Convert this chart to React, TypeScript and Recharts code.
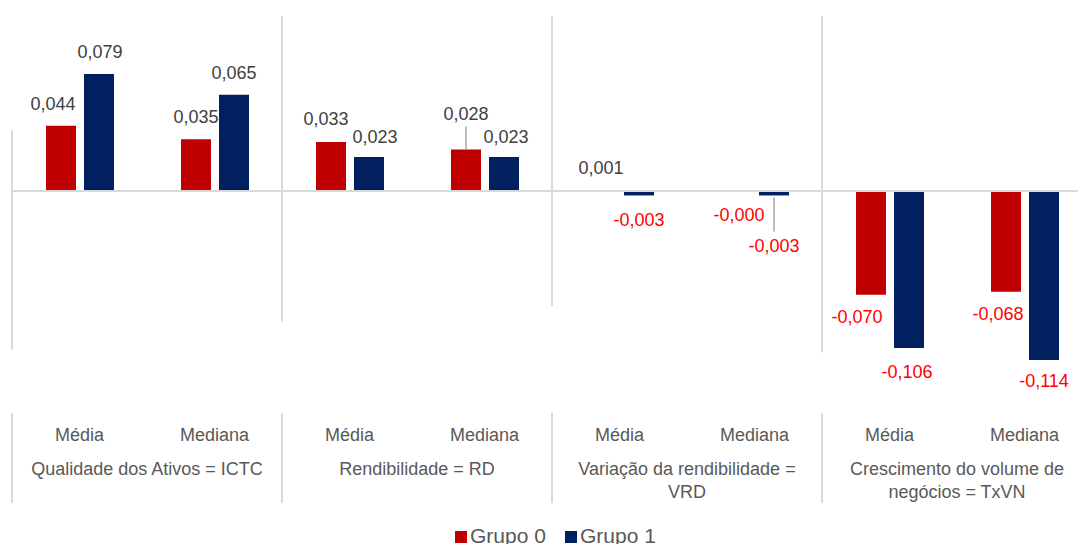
import React from 'react';
import { BarChart, Bar, XAxis, YAxis, ReferenceLine, LabelList } from 'recharts';

const subCategories = ['Média', 'Mediana', 'Média', 'Mediana', 'Média', 'Mediana', 'Média', 'Mediana'];
const groupLabels = [
  'Qualidade dos Ativos = ICTC',
  'Rendibilidade = RD',
  'Variação da rendibilidade =\nVRD',
  'Crescimento do volume de\nnegócios = TxVN',
];
const grupo0 = [0.044, 0.035, 0.033, 0.028, 0.0006, -0.0002, -0.07, -0.068];
const grupo1 = [0.079, 0.065, 0.023, 0.023, -0.003, -0.003, -0.106, -0.114];
const seriesNames = ['Grupo 0', 'Grupo 1'];
const seriesColors = ['#C00000', '#002060'];

// decorative separator spans inside the plot (value units), one per group start
const separatorSpans = [
  [0.041, -0.107],
  [0.118, -0.088],
  [0.118, -0.078],
  [0.118, -0.109],
];

// label nudges [dx, dy, leader]
const nudges0: [number, number, boolean][] = [
  [-8, 0, false], [0, 0, false], [-5, -1, false], [0, -14, true],
  [0, 0, false], [3, 2, false], [-14, 0, false], [-8, 0, false],
];
const nudges1: [number, number, boolean][] = [
  [1, 0, false], [0, 0, false], [6, 2, false], [2, 2, false],
  [0, 3, false], [0, 29, true], [-2, 2, false], [0, -1, false],
];

const data = subCategories.map((s, i) => ({
  key: `${i}|${s}`,
  sub: s,
  g0: grupo0[i],
  g1: grupo1[i],
}));

const CHART_W = 1100;
const CHART_H = 544;
const MARGIN = { top: 15, right: 8, left: 12, bottom: 37 };
const SLOT = (CHART_W - MARGIN.left - MARGIN.right) / subCategories.length;
const FONT = '"Liberation Sans", Arial, sans-serif';
const GRID = '#D9D9D9';
const Y_LIM = 0.11875;

const fmt = (v: number) => v.toFixed(3).replace('.', ',');

const CatTick = (props: any) => {
  const { x, y, payload } = props;
  const idx = data.findIndex((d) => d.key === payload.value);
  if (idx < 0) return null;
  const d = data[idx];
  const isStart = idx % 2 === 0;
  const lines = isStart ? groupLabels[idx / 2].split('\n') : [];
  return (
    <g>
      <text x={x} y={y + 68} textAnchor="middle" dominantBaseline="central" fill="#595959" fontSize={18} fontFamily={FONT}>
        {d.sub}
      </text>
      {isStart && (
        <line x1={x - SLOT / 2} x2={x - SLOT / 2} y1={y + 46} y2={y + 136} stroke={GRID} strokeWidth={2} />
      )}
      {lines.map((ln, k) => (
        <text key={k} x={x + SLOT / 2} y={y + 102 + k * 23} textAnchor="middle" dominantBaseline="central" fill="#595959" fontSize={18} fontFamily={FONT}>
          {ln}
        </text>
      ))}
    </g>
  );
};

const makeLabel = (nudges: [number, number, boolean][]) => (props: any) => {
  const { x, y, width, height, value, index } = props;
  const v = Number(value);
  const top = Math.min(y, y + height);
  const bottom = Math.max(y, y + height);
  const [dx, dy, leader] = nudges[index] || [0, 0, false];
  const neg = v < 0;
  const cx = x + width / 2 + dx;
  const cy = neg ? bottom + 22 + dy : top - 22 + dy;
  const lx = x + width / 2 + dx;
  return (
    <g>
      {leader && !neg && <line x1={lx} x2={lx} y1={cy + 13} y2={top} stroke="#A6A6A6" strokeWidth={1.5} />}
      {leader && neg && <line x1={lx} x2={lx} y1={bottom + 2} y2={cy - 15} stroke="#A6A6A6" strokeWidth={1.5} />}
      <text x={cx} y={cy} textAnchor="middle" dominantBaseline="central" fontSize={18} fontFamily={FONT} fill={neg ? '#FF0000' : '#404040'}>
        {fmt(v)}
      </text>
    </g>
  );
};

export default function App() {
  return (
    <div style={{ position: 'absolute', left: 0, top: 0, width: 1078, height: 544, overflow: 'hidden', background: '#fff' }}>
      <BarChart width={CHART_W} height={CHART_H} data={data} margin={MARGIN} barGap={8}>
        <XAxis
          dataKey="key"
          interval={0}
          tickLine={false}
          axisLine={false}
          tickSize={0}
          tickMargin={0}
          height={140}
          tick={<CatTick />}
        />
        <YAxis hide domain={[-Y_LIM, Y_LIM]} allowDataOverflow />
        {separatorSpans.map((s, g) => (
          <ReferenceLine
            key={g}
            position="start"
            segment={[
              { x: data[g * 2].key, y: s[0] },
              { x: data[g * 2].key, y: s[1] },
            ]}
            stroke={GRID}
            strokeWidth={2}
          />
        ))}
        <Bar dataKey="g0" name={seriesNames[0]} fill={seriesColors[0]} barSize={30} isAnimationActive={false}>
          <LabelList dataKey="g0" content={makeLabel(nudges0)} />
        </Bar>
        <Bar dataKey="g1" name={seriesNames[1]} fill={seriesColors[1]} barSize={30} isAnimationActive={false}>
          <LabelList dataKey="g1" content={makeLabel(nudges1)} />
        </Bar>
        <ReferenceLine y={0} stroke={GRID} strokeWidth={2} />
      </BarChart>
      <svg width={1078} height={544} style={{ position: 'absolute', left: 0, top: 0, pointerEvents: 'none' }}>
        <rect x={455} y={531} width={12} height={12} fill={seriesColors[0]} />
        <text x={470} y={543} fontSize={21} fontFamily={FONT} fill="#595959">{seriesNames[0]}</text>
        <rect x={565} y={531} width={12} height={12} fill={seriesColors[1]} />
        <text x={580} y={543} fontSize={21} fontFamily={FONT} fill="#595959">{seriesNames[1]}</text>
      </svg>
    </div>
  );
}
